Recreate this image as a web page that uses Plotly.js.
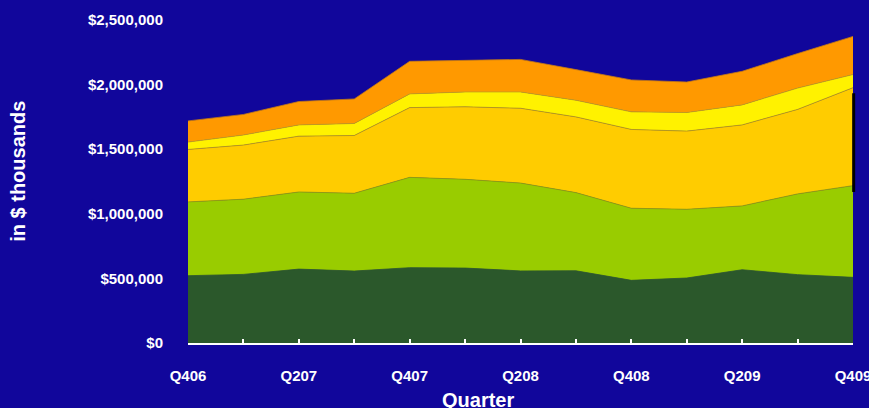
<!DOCTYPE html>
<html>
<head>
<meta charset="utf-8">
<script src="https://cdn.plot.ly/plotly-3.0.1.min.js"></script>
<style>
html,body{margin:0;padding:0;background:#11069B;}
#chart{width:869px;height:408px;}
</style>
</head>
<body>
<div id="chart"></div>
<script>
const quarters = ["Q406","Q107","Q207","Q307","Q407","Q108","Q208","Q308","Q408","Q109","Q209","Q309","Q409"];
const tickLabels = ["Q406","","Q207","","Q407","","Q208","","Q408","","Q209","","Q409"];
const series1 = [521000,531000,572000,557000,583000,580000,558000,559000,485000,503000,567000,529000,508000];
const series2 = [571000,582000,597000,602000,699000,687000,680000,605000,558000,532000,494000,625000,710000];
const series3 = [406000,419000,432000,447000,540000,561000,579000,586000,610000,605000,627000,654000,758000];
const series4 = [57000,78000,87000,93000,106000,115000,126000,129000,136000,144000,155000,165000,102000];
const series5 = [164000,159000,181000,190000,252000,247000,252000,237000,247000,236000,260000,267000,295000];
const yTicks = [0,500000,1000000,1500000,2000000,2500000];
const yTickLabels = ["$0","$500,000","$1,000,000","$1,500,000","$2,000,000","$2,500,000"];

const layers = [
  {name:"Series 1", y:series1, fill:"#2B582B", line:"#2B582B"},
  {name:"Series 2", y:series2, fill:"#99CC00", line:"#8a9a10"},
  {name:"Series 3", y:series3, fill:"#FFCC00", line:"#b09020"},
  {name:"Series 4", y:series4, fill:"#FFF200", line:"#c0a020"},
  {name:"Series 5", y:series5, fill:"#FF9900", line:"#c07818"}
];
const traces = layers.map(l => ({
  type:"scatter", mode:"lines", x:quarters, y:l.y, name:l.name,
  stackgroup:"one", fillcolor:l.fill, line:{color:l.line, width:0.8},
  hoverinfo:"skip"
}));

const font = {family:"Arial, 'Liberation Sans', sans-serif", color:"#FFFFFF", size:15, weight:"bold"};
const layout = {
  width:869, height:408,
  paper_bgcolor:"#11069B", plot_bgcolor:"#11069B",
  margin:{l:188, r:16, t:20, b:64.5},
  showlegend:false,
  font:font,
  xaxis:{
    type:"category", range:[0,12], tickmode:"array", tickvals:quarters, ticktext:tickLabels,
    showline:true, linecolor:"#FFFFFF", linewidth:2,
    ticks:"inside", ticklen:4, tickwidth:2, tickcolor:"#FFFFFF",
    showgrid:false, zeroline:false, ticklabelstandoff:18,
    tickfont:font
  },
  yaxis:{
    range:[0,2500000], tickmode:"array", tickvals:yTicks, ticktext:yTickLabels,
    showline:false, showgrid:false, zeroline:false, ticks:"",
    ticklabelstandoff:24, tickfont:font
  },
  annotations:[
    {text:"Quarter", xref:"paper", yref:"paper", x:(478-188)/665, y:-0.175, xanchor:"center", yanchor:"middle", showarrow:false,
     font:{family:"Arial, 'Liberation Sans', sans-serif", color:"#FFFFFF", size:20, weight:"bold"}},
    {text:"in $ thousands", xref:"paper", yref:"paper", x:(18-188)/665, y:(343.5-172)/323.5, xanchor:"center", yanchor:"middle", textangle:-90, showarrow:false,
     font:{family:"Arial, 'Liberation Sans', sans-serif", color:"#FFFFFF", size:20, weight:"bold"}}
  ],
  shapes:[
    {type:"line", xref:"paper", yref:"y", x0:1.001, x1:1.001, y0:1169000, y1:1933000, line:{color:"#000000", width:3}, layer:"above"}
  ]
};
Plotly.newPlot("chart", traces, layout, {displayModeBar:false, staticPlot:true});
</script>
</body>
</html>
